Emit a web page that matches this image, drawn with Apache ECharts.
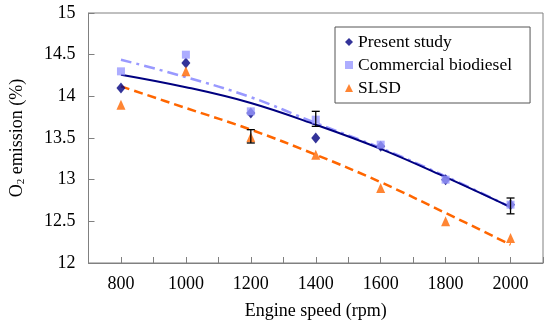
<!DOCTYPE html>
<html>
<head>
<meta charset="utf-8">
<script src="https://cdn.jsdelivr.net/npm/echarts@6/dist/echarts.min.js"></script>
<style>html,body{margin:0;padding:0;background:#fff}#c{width:550px;height:332px}</style>
</head>
<body>
<div id="c"></div>
<script>
var speeds = [800, 1000, 1200, 1400, 1600, 1800, 2000];
var presentStudy = [14.1, 14.4, 13.8, 13.5, 13.4, 13.0, 12.7];
var commercial = [14.3, 14.5, 13.82, 13.72, 13.42, 13.0, 12.7];
var slsd = [13.9, 14.3, 13.51, 13.3, 12.9, 12.5, 12.3];
var presentTrend = [14.26, 14.11, 13.92, 13.66, 13.37, 13.03, 12.67];
var commercialTrend = [14.44, 14.23, 13.99, 13.68, 13.38, 13.04, 12.67];
var slsdTrend = [14.12, 13.86, 13.6, 13.3, 12.97, 12.6, 12.22];
var errX = [1200, 1400, 2000];
var errLow = [13.44, 13.64, 12.59];
var errHigh = [13.6, 13.82, 12.78];
var yTicks = ['12', '12.5', '13', '13.5', '14', '14.5', '15'];

function pairs(xs, ys) { return xs.map(function (x, i) { return [x, ys[i]]; }); }

var font = 'Liberation Serif';
var chart = echarts.init(document.getElementById('c'));
chart.setOption({
  animation: false,
  textStyle: { fontFamily: font },
  grid: { left: 85, right: 7, top: 13, bottom: 69, show: true, borderColor: '#808080', borderWidth: 1 },
  legend: {
    orient: 'vertical', left: 335, top: 27,
    data: [
      { name: 'Present study', icon: 'diamond' },
      { name: 'Commercial biodiesel', icon: 'rect' },
      { name: 'SLSD', icon: 'triangle' }
    ],
    formatter: '{t|{name}}',
    itemWidth: 8, itemHeight: 8, itemGap: 5,
    padding: [6, 18, 6, 10],
    borderColor: '#555', borderWidth: 1, backgroundColor: '#fff',
    textStyle: { fontFamily: font, fontSize: 17.5, color: '#000',
      rich: { t: { fontFamily: font, fontSize: 17.5, color: '#000', lineHeight: 18 } } }
  },
  xAxis: {
    type: 'value', min: 700, max: 2100, interval: 100,
    name: 'Engine speed (rpm)', nameLocation: 'middle', nameGap: 39,
    nameTextStyle: { fontFamily: font, fontSize: 18, color: '#000' },
    axisLine: { lineStyle: { color: '#808080' } },
    axisTick: { inside: true, length: 6, lineStyle: { color: '#808080' } },
    axisLabel: { fontFamily: font, fontSize: 18, color: '#000', margin: 12,
      formatter: function (v) { return (v % 200 === 0) ? String(v) : ''; } },
    splitLine: { show: false }
  },
  yAxis: {
    type: 'value', min: 12, max: 15, interval: 0.5,
    name: '{a|O}{s|2}{a| emission (%)}', nameLocation: 'middle', nameGap: 62,
    nameTextStyle: { rich: { a: { fontFamily: font, fontSize: 18, color: '#000' }, s: { fontFamily: font, fontSize: 11, color: '#000', verticalAlign: 'bottom', padding: [8, 0, 0, 0] } } },
    axisLine: { show: true, lineStyle: { color: '#808080' } },
    axisTick: { show: true, inside: true, length: 6, lineStyle: { color: '#808080' } },
    axisLabel: { fontFamily: font, fontSize: 18, color: '#000', margin: 13,
      formatter: function (v) { var i = Math.round((v - 12) / 0.5); return yTicks[i]; } },
    splitLine: { show: false }
  },
  series: [
    { name: 'trendCommercial', type: 'line', data: pairs(speeds, commercialTrend), smooth: 0.4, symbol: 'none',
      lineStyle: { color: '#9999FF', width: 2.5, type: [11, 5, 3, 5] }, z: 2 },
    { name: 'trendSLSD', type: 'line', data: pairs(speeds, slsdTrend), smooth: 0.4, symbol: 'none',
      lineStyle: { color: '#FF6600', width: 2.5, type: [9, 5] }, z: 2 },
    { name: 'trendPresent', type: 'line', data: pairs(speeds, presentTrend), smooth: 0.4, symbol: 'none',
      lineStyle: { color: '#000080', width: 2 }, z: 3 },
    { name: 'Present study', type: 'scatter', data: pairs(speeds, presentStudy), symbol: 'diamond', symbolSize: [9, 11],
      itemStyle: { color: '#000080' }, z: 4 },
    { name: 'Commercial biodiesel', type: 'scatter', data: pairs(speeds, commercial), symbol: 'rect', symbolSize: 8,
      itemStyle: { color: '#9999FF' }, z: 5 },
    { name: 'SLSD', type: 'scatter', data: pairs(speeds, slsd), symbol: 'triangle', symbolSize: [9, 10],
      itemStyle: { color: '#FF6600' }, z: 5 },
    { name: 'err', type: 'custom', z: 6,
      data: errX.map(function (x, i) { return [x, errLow[i], errHigh[i]]; }),
      renderItem: function (params, api) {
        var lo = api.coord([api.value(0), api.value(1)]);
        var hi = api.coord([api.value(0), api.value(2)]);
        var w = 4;
        var st = { stroke: '#000', lineWidth: 1.3 };
        return { type: 'group', children: [
          { type: 'line', shape: { x1: lo[0], y1: lo[1], x2: hi[0], y2: hi[1] }, style: st },
          { type: 'line', shape: { x1: lo[0] - w, y1: lo[1], x2: lo[0] + w, y2: lo[1] }, style: st },
          { type: 'line', shape: { x1: hi[0] - w, y1: hi[1], x2: hi[0] + w, y2: hi[1] }, style: st }
        ] };
      }
    }
  ]
});
</script>
</body>
</html>
